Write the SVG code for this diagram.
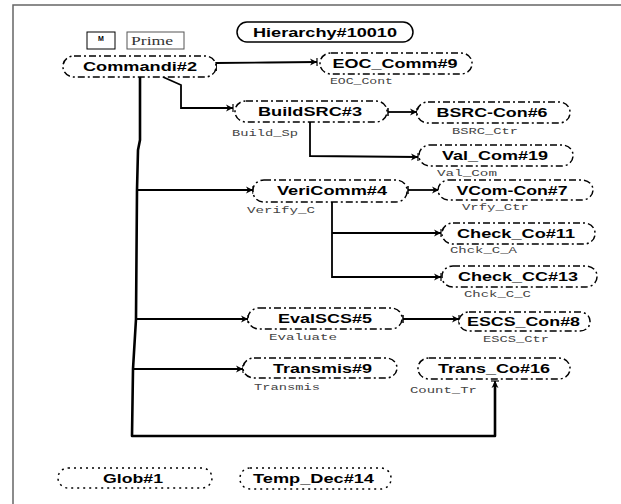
<svg xmlns="http://www.w3.org/2000/svg" width="621" height="504" viewBox="0 0 621 504">
  <style>
    .node { fill: #fff; stroke: #000; stroke-width: 1.5; stroke-dasharray: 7 3 2 3; }
    .glob { fill: #fff; stroke: #000; stroke-width: 1.5; stroke-dasharray: 2 4; }
    .title { font-family: "Liberation Sans", Arial, sans-serif; font-weight: bold; font-size: 13px; fill: #000; text-anchor: middle; }
    .lbl { font-family: "Liberation Mono", "Courier New", monospace; font-size: 9px; fill: #444; }
    .wire { fill: none; stroke: #000; stroke-width: 1.8; }
    .trunk { fill: none; stroke: #000; stroke-width: 2.6; stroke-linejoin: round; }
  </style>
  <defs>
    <marker id="head" markerWidth="10" markerHeight="10" refX="9" refY="5" orient="auto" markerUnits="userSpaceOnUse">
      <path d="M2,1.5 L9,5 L2,8.5 L4,5 z" fill="#000"/>
      <path d="M9,1 L9,9" stroke="#000" stroke-width="1.2"/>
    </marker>
    <marker id="tee" markerWidth="4" markerHeight="10" refX="1" refY="5" orient="auto" markerUnits="userSpaceOnUse">
      <path d="M1,1 L1,9" stroke="#000" stroke-width="1.5"/>
    </marker>
  </defs>

  <!-- page frame -->
  <path d="M13,504 L13,5 L621,5" fill="none" stroke="#666" stroke-width="1.5"/>

  <!-- header -->
  <g id="hierarchy">
    <rect x="237" y="22" width="176" height="20" rx="10" ry="10" fill="#fff" stroke="#000" stroke-width="1.5"/>
    <text class="title" x="325" y="36.5" textLength="144" lengthAdjust="spacingAndGlyphs">Hierarchy#10010</text>
  </g>
  <g id="mode-m">
    <rect x="87" y="32" width="28" height="17" fill="#fff" stroke="#000" stroke-width="1"/>
    <text x="101" y="41" font-family="Liberation Sans, Arial, sans-serif" font-weight="bold" font-size="7" text-anchor="middle">M</text>
  </g>
  <g id="mode-prime">
    <rect x="127" y="32" width="57" height="17" fill="#fff" stroke="#555" stroke-width="1"/>
    <text x="131" y="45" font-family="Liberation Serif, 'Times New Roman', serif" font-size="13" fill="#333" textLength="42" lengthAdjust="spacingAndGlyphs">Prime</text>
  </g>

  <!-- connectors -->
  <g id="connectors">
    <path class="wire" d="M216,71 L216,63 L268,62.5 L317,62" marker-end="url(#head)"/>
    <path class="wire" d="M163,77 L181,85 L181,108 L233,108" marker-end="url(#head)"/>
    <path class="wire" d="M388,112 L417,112" marker-start="url(#tee)" marker-end="url(#head)"/>
    <path class="wire" d="M310,122 L310,156 L418,157" marker-end="url(#head)"/>
    <path class="trunk" d="M140,77 L140,140 L138,150 L137,190 L136,319 L133,369 L132,436 L495,436 L495,383"/>
    <path d="M495,390 L495,381" fill="none" stroke="#000" stroke-width="1.8" marker-end="url(#head)"/>
    <path class="wire" d="M137,190 L253,190" marker-end="url(#head)"/>
    <path class="wire" d="M408,190 L439,190" marker-start="url(#tee)" marker-end="url(#head)"/>
    <path class="wire" d="M332,202 L332,277 L441,277" marker-end="url(#head)"/>
    <path class="wire" d="M332,233 L441,233" marker-end="url(#head)"/>
    <path class="wire" d="M136,319 L248,319" marker-end="url(#head)"/>
    <path class="wire" d="M403,319 L459,319" marker-start="url(#tee)" marker-end="url(#head)"/>
    <path class="wire" d="M133,369 L243,369" marker-end="url(#head)"/>
  </g>

  <!-- nodes -->
  <g id="commandi2">
    <rect class="node" x="63" y="56" width="153" height="21" rx="11" ry="10"/>
    <text class="title" x="140" y="70.5" textLength="114" lengthAdjust="spacingAndGlyphs">Commandi#2</text>
  </g>
  <g id="eoc-comm9">
    <rect class="node" x="320" y="53" width="152" height="21" rx="11" ry="10"/>
    <text class="title" x="395" y="68" textLength="125" lengthAdjust="spacingAndGlyphs">EOC_Comm#9</text>
    <text class="lbl" x="330" y="84" textLength="63" lengthAdjust="spacingAndGlyphs">EOC_Cont</text>
  </g>
  <g id="buildsrc3">
    <rect class="node" x="235" y="101" width="152" height="21" rx="11" ry="10"/>
    <text class="title" x="310" y="115.5" textLength="104" lengthAdjust="spacingAndGlyphs">BuildSRC#3</text>
    <text class="lbl" x="232" y="136" textLength="66" lengthAdjust="spacingAndGlyphs">Build_Sp</text>
  </g>
  <g id="bsrc-con6">
    <rect class="node" x="417" y="102" width="153" height="21" rx="11" ry="10"/>
    <text class="title" x="492" y="116.5" textLength="111" lengthAdjust="spacingAndGlyphs">BSRC-Con#6</text>
    <text class="lbl" x="452" y="134" textLength="66" lengthAdjust="spacingAndGlyphs">BSRC_Ctr</text>
  </g>
  <g id="val-com19">
    <rect class="node" x="419" y="145" width="154" height="21" rx="11" ry="10"/>
    <text class="title" x="495" y="159.5" textLength="106" lengthAdjust="spacingAndGlyphs">Val_Com#19</text>
    <text class="lbl" x="437" y="176" textLength="60" lengthAdjust="spacingAndGlyphs">Val_Com</text>
  </g>
  <g id="vericomm4">
    <rect class="node" x="253" y="180" width="154" height="22" rx="11" ry="10"/>
    <text class="title" x="332" y="195" textLength="110" lengthAdjust="spacingAndGlyphs">VeriComm#4</text>
    <text class="lbl" x="247" y="213" textLength="68" lengthAdjust="spacingAndGlyphs">Verify_C</text>
  </g>
  <g id="vcom-con7">
    <rect class="node" x="438" y="180" width="155" height="20" rx="11" ry="10"/>
    <text class="title" x="512" y="194.5" textLength="111" lengthAdjust="spacingAndGlyphs">VCom-Con#7</text>
    <text class="lbl" x="462" y="210" textLength="67" lengthAdjust="spacingAndGlyphs">Vrfy_Ctr</text>
  </g>
  <g id="check-co11">
    <rect class="node" x="442" y="223" width="153" height="21" rx="11" ry="10"/>
    <text class="title" x="516" y="237.5" textLength="118" lengthAdjust="spacingAndGlyphs">Check_Co#11</text>
    <text class="lbl" x="450" y="253" textLength="67" lengthAdjust="spacingAndGlyphs">Chck_C_A</text>
  </g>
  <g id="check-cc13">
    <rect class="node" x="442" y="266" width="155" height="21" rx="11" ry="10"/>
    <text class="title" x="518" y="281" textLength="120" lengthAdjust="spacingAndGlyphs">Check_CC#13</text>
    <text class="lbl" x="464" y="297" textLength="67" lengthAdjust="spacingAndGlyphs">Chck_C_C</text>
  </g>
  <g id="evalscs5">
    <rect class="node" x="248" y="308" width="154" height="21" rx="11" ry="10"/>
    <text class="title" x="325" y="322.5" textLength="94" lengthAdjust="spacingAndGlyphs">EvalSCS#5</text>
    <text class="lbl" x="269" y="340" textLength="68" lengthAdjust="spacingAndGlyphs">Evaluate</text>
  </g>
  <g id="escs-con8">
    <rect class="node" x="459" y="312" width="131" height="19" rx="10" ry="9"/>
    <text class="title" x="523.5" y="326" textLength="113" lengthAdjust="spacingAndGlyphs">ESCS_Con#8</text>
    <text class="lbl" x="483" y="342" textLength="66" lengthAdjust="spacingAndGlyphs">ESCS_Ctr</text>
  </g>
  <g id="transmis9">
    <rect class="node" x="243" y="358" width="154" height="20" rx="11" ry="10"/>
    <text class="title" x="322.5" y="372.5" textLength="99" lengthAdjust="spacingAndGlyphs">Transmis#9</text>
    <text class="lbl" x="254" y="390" textLength="66" lengthAdjust="spacingAndGlyphs">Transmis</text>
  </g>
  <g id="trans-co16">
    <rect class="node" x="418" y="358" width="152" height="21" rx="11" ry="10"/>
    <text class="title" x="494" y="372.5" textLength="112" lengthAdjust="spacingAndGlyphs">Trans_Co#16</text>
    <text class="lbl" x="410" y="393" textLength="67" lengthAdjust="spacingAndGlyphs">Count_Tr</text>
  </g>
  <g id="glob1">
    <rect class="glob" x="58" y="468" width="154" height="20" rx="10" ry="10"/>
    <text class="title" x="133" y="482.5" textLength="60" lengthAdjust="spacingAndGlyphs">Glob#1</text>
  </g>
  <g id="temp-dec14">
    <rect class="glob" x="240" y="468" width="151" height="21" rx="10" ry="10"/>
    <text class="title" x="313.5" y="483" textLength="121" lengthAdjust="spacingAndGlyphs">Temp_Dec#14</text>
  </g>
</svg>
